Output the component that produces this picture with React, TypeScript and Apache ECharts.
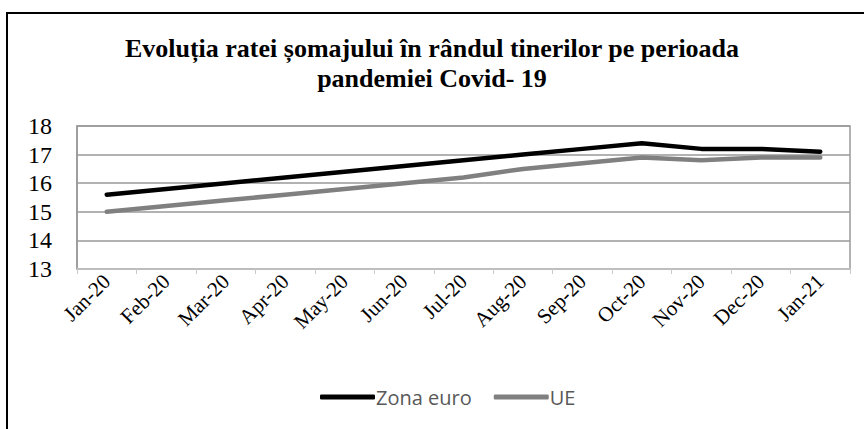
import React, { useEffect, useRef } from "react";
import * as echarts from "echarts";

const categories = ["Jan-20", "Feb-20", "Mar-20", "Apr-20", "May-20", "Jun-20", "Jul-20", "Aug-20", "Sep-20", "Oct-20", "Nov-20", "Dec-20", "Jan-21"];
const zonaEuro = [15.6, 15.8, 16.0, 16.2, 16.4, 16.6, 16.8, 17.0, 17.2, 17.4, 17.2, 17.2, 17.1];
const ue = [15.0, 15.2, 15.4, 15.6, 15.8, 16.0, 16.2, 16.5, 16.7, 16.9, 16.8, 16.9, 16.9];
const titleText = "Evoluția ratei șomajului în rândul tinerilor pe perioada\npandemiei Covid- 19";

export default function App() {
  const ref = useRef<HTMLDivElement>(null);
  useEffect(() => {
    const chart = echarts.init(ref.current!, null, { renderer: "svg" });
    chart.setOption({
      animation: false,
      backgroundColor: "#ffffff",
      title: {
        text: titleText,
        left: "center",
        top: 28,
        textStyle: {
          fontFamily: "Liberation Serif",
          fontWeight: "bold",
          fontSize: 26,
          lineHeight: 30,
          color: "#000000",
        },
      },
      graphic: [
        {
          type: "rect",
          shape: { x: 7, y: 13, width: 900, height: 500 },
          style: { fill: "none", stroke: "#000000", lineWidth: 2 },
          silent: true,
        },
      ],
      legend: {
        top: 382,
        left: 315,
        icon: "roundRect",
        itemWidth: 55,
        itemHeight: 5,
        itemGap: 22,
        textStyle: { fontFamily: "Open Sans", fontSize: 20, color: "#595959", padding: [0, 0, 0, -4] },
        data: ["Zona euro", "UE"],
      },
      grid: {
        left: 77,
        right: 14,
        top: 126,
        bottom: 160,
        show: true,
        borderColor: "#999999",
        borderWidth: 1.5,
      },
      xAxis: {
        type: "category",
        data: categories,
        boundaryGap: true,
        axisLine: { lineStyle: { color: "#c8c8c8", width: 1.5 } },
        axisTick: { show: true, alignWithLabel: false, length: 5, lineStyle: { color: "#c8c8c8" } },
        axisLabel: {
          rotate: 45,
          interval: 0,
          margin: 9,
          fontFamily: "Liberation Serif",
          fontSize: 21,
          color: "#000000",
        },
      },
      yAxis: {
        type: "value",
        min: 13,
        max: 18,
        interval: 1,
        axisLine: { show: true, lineStyle: { color: "#999999", width: 1.5 } },
        axisTick: { show: false },
        splitLine: { lineStyle: { color: "#999999", width: 1.5 } },
        axisLabel: {
          margin: 25,
          align: "right",
          fontFamily: "Liberation Serif",
          fontSize: 24,
          color: "#000000",
        },
      },
      series: [
        {
          name: "Zona euro",
          type: "line",
          data: zonaEuro,
          symbol: "none",
          lineStyle: { color: "#000000", width: 4.5, cap: "round", join: "round" },
          itemStyle: { color: "#000000" },
        },
        {
          name: "UE",
          type: "line",
          data: ue,
          symbol: "none",
          lineStyle: { color: "#808080", width: 4.5, cap: "round", join: "round" },
          itemStyle: { color: "#808080" },
        },
      ],
    });
    return () => chart.dispose();
  }, []);
  return (
    <div
      ref={ref}
      style={{ position: "absolute", left: 0, top: 0, width: 864, height: 429 }}
    />
  );
}
